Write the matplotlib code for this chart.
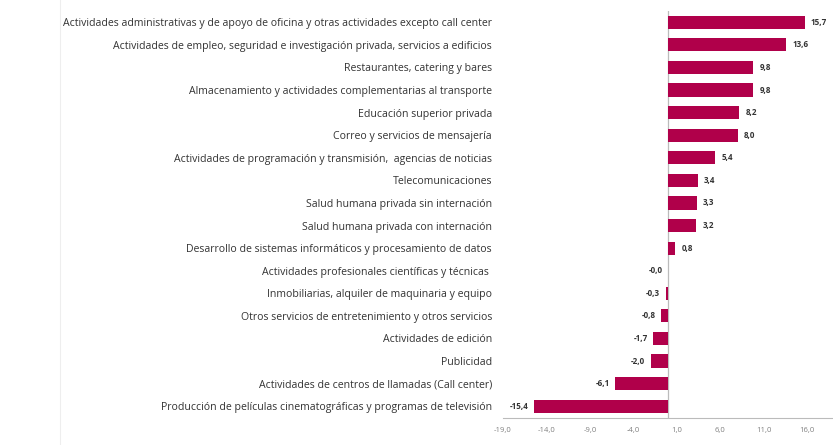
import matplotlib
matplotlib.use("Agg")
import matplotlib.pyplot as plt
from matplotlib.lines import Line2D

categories = [
    "Actividades administrativas y de apoyo de oficina y otras actividades excepto call center",
    "Actividades de empleo, seguridad e investigación privada, servicios a edificios",
    "Restaurantes, catering y bares",
    "Almacenamiento y actividades complementarias al transporte",
    "Educación superior privada",
    "Correo y servicios de mensajería",
    "Actividades de programación y transmisión,  agencias de noticias",
    "Telecomunicaciones",
    "Salud humana privada sin internación",
    "Salud humana privada con internación",
    "Desarrollo de sistemas informáticos y procesamiento de datos",
    "Actividades profesionales científicas y técnicas ",
    "Inmobiliarias, alquiler de maquinaria y equipo",
    "Otros servicios de entretenimiento y otros servicios",
    "Actividades de edición",
    "Publicidad",
    "Actividades de centros de llamadas (Call center)",
    "Producción de películas cinematográficas y programas de televisión",
]
values = [15.7, 13.6, 9.8, 9.8, 8.2, 8.0, 5.4, 3.4, 3.3, 3.2, 0.8,
          -0.02, -0.3, -0.8, -1.7, -2.0, -6.1, -15.4]
xticks = [-19, -14, -9, -4, 1, 6, 11, 16]

plt.rcParams['font.family'] = ['Open Sans', 'DejaVu Sans']

fig = plt.figure(figsize=(8.33, 4.45), dpi=100)
ax = fig.add_axes([503/833, 1-417.5/445, 1-503/833, (417.5-11)/445])

bar_color = "#B0004A"
y = list(range(len(categories)))
ax.barh(y, values, height=0.58, color=bar_color)
ax.set_ylim(len(categories)-0.5, -0.5)
ax.set_xlim(-19, 18.97)

ax.set_yticks(y)
ax.set_yticklabels(categories, fontsize=7.6, color="#333333")
ax.tick_params(axis='y', length=0, pad=8)
ax.set_xticks(xticks)
ax.set_xticklabels([f"{t:.1f}".replace('.', ',') for t in xticks], fontsize=5.5, color="#808080")
ax.tick_params(axis='x', length=0, pad=7)

for s in ['top', 'right', 'left']:
    ax.spines[s].set_visible(False)
ax.spines['bottom'].set_color("#BBBBBB")
ax.spines['bottom'].set_linewidth(0.8)
ax.axvline(0, color="#BBBBBB", lw=0.9, zorder=0)

for yi, v in zip(y, values):
    lab = f"{v:.1f}".replace('.', ',')
    if v >= 0:
        ax.annotate(lab, (v, yi), xytext=(4.5, 0), textcoords='offset points',
                    ha='left', va='center', fontsize=5.8, fontweight='bold', color="#333333")
    else:
        ax.annotate(lab, (v, yi), xytext=(-4, 0), textcoords='offset points',
                    ha='right', va='center', fontsize=5.8, fontweight='bold', color="#333333")

fig.add_artist(Line2D([60/833, 60/833], [0, 1], color="#EEEEEE", lw=0.8))

fig.savefig("out.png", dpi=100)
